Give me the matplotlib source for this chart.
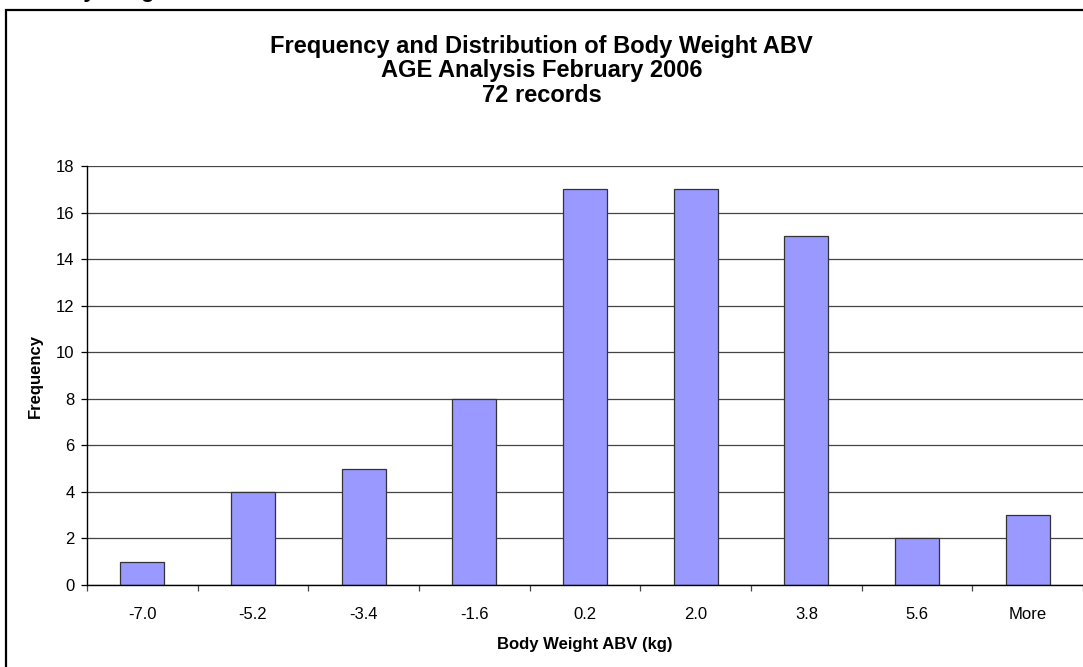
import matplotlib.pyplot as plt
from matplotlib.patches import Rectangle
from matplotlib.ticker import MultipleLocator, FixedLocator

# Histogram bins and counts
bins = ['-7.0', '-5.2', '-3.4', '-1.6', '0.2', '2.0', '3.8', '5.6', 'More']
frequency = [1, 4, 5, 8, 17, 17, 15, 2, 3]
title_lines = ['Frequency and Distribution of Body Weight ABV',
               'AGE Analysis February 2006',
               '72 records']

plt.rcParams['font.family'] = ['Liberation Sans', 'DejaVu Sans']

W, H = 1083, 667
fig = plt.figure(figsize=(W / 100, H / 100), dpi=100)

# chart area frame (runs off the right and bottom edges)
fig.patches.append(Rectangle((6 / W, -0.1), 1.2, (H - 10) / H + 0.1,
                             transform=fig.transFigure, fill=False,
                             edgecolor='black', linewidth=1.6, zorder=0))
# clipped heading above the frame
fig.text(40 / W, 1 + 3.5 / H, 'Body Weight', fontsize=16, fontweight='bold',
         ha='left', va='baseline')

ax = fig.add_axes([87 / W, (H - 585) / H, (W - 87) / W, (585 - 166) / H])
x = range(len(bins))
ax.bar(x, frequency, width=0.4, color='#9999FF', edgecolor='#333333',
       linewidth=0.9, zorder=3)

ax.set_xlim(-0.5, len(bins) - 0.5)
ax.set_ylim(0, 18)
ax.yaxis.set_major_locator(MultipleLocator(2))
ax.grid(axis='y', color='#444444', linewidth=0.9, zorder=0)

ax.set_xticks(list(x))
ax.set_xticklabels(bins)
ax.xaxis.set_minor_locator(FixedLocator([i - 0.5 for i in range(len(bins) + 1)]))
ax.tick_params(axis='x', which='major', length=0, pad=15.5, labelsize=12)
ax.tick_params(axis='x', which='minor', length=4, width=0.9, color='#444444',
               direction='out')
ax.tick_params(axis='y', length=4, width=0.9, pad=5, labelsize=12)

for s in ('top', 'right'):
    ax.spines[s].set_visible(False)
for s in ('left', 'bottom'):
    ax.spines[s].set_linewidth(1.0)
    ax.spines[s].set_color('black')
    ax.spines[s].set_zorder(4)

ax.set_xlabel('Body Weight ABV (kg)', fontsize=12, fontweight='bold', labelpad=11)
ax.set_ylabel('Frequency', fontsize=12, fontweight='bold', labelpad=9)

for i, line in enumerate(title_lines):
    fig.text(0.5, 1 - (46 + 25 * i) / H, line, fontsize=17, fontweight='bold',
             ha='center', va='center')

fig.savefig('out.png', dpi=100)
